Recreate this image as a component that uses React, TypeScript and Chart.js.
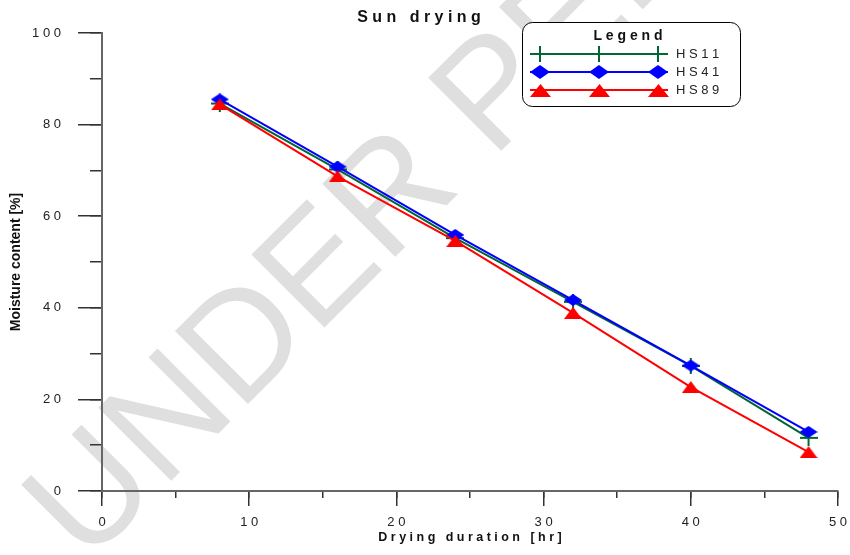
import React, { useEffect, useRef } from 'react';
import { Chart, registerables } from 'chart.js';

Chart.register(...registerables);

const chartTitle = 'Sun drying';
const xTitle = 'Drying duration [hr]';
const yTitle = 'Moisture content [%]';
const legendTitle = 'Legend';
const watermarkText = 'UNDER PEER REVIEW';

const hours = [8, 16, 24, 32, 40, 48];
const seriesNames = ['HS11', 'HS41', 'HS89'];
const hs11 = [84.6, 70.2, 55.2, 41.3, 27.3, 11.6];
const hs41 = [85.5, 70.8, 55.9, 41.7, 27.4, 12.9];
const hs89 = [84.4, 68.7, 54.6, 38.9, 22.7, 8.5];
const seriesColors = ['#006633', '#0000ff', '#ff0000'];

const xRange = [0, 50];
const yRange = [0, 100];
const xMajorStep = 10;
const xMinorStep = 5;
const yMajorStep = 20;
const yMinorStep = 10;

const FONT = '"Liberation Sans", Arial, Helvetica, sans-serif';

const spaced = (s: string) =>
  s
    .split(' ')
    .map((w) => w.split('').join(' '))
    .join('   ');

function mk(w: number, h: number, draw: (g: CanvasRenderingContext2D) => void) {
  const c = document.createElement('canvas');
  c.width = w;
  c.height = h;
  const g = c.getContext('2d')!;
  draw(g);
  return c;
}
const diamond = (w: number, h: number, col: string) =>
  mk(w, h, (g) => {
    g.fillStyle = col;
    g.beginPath();
    g.moveTo(w / 2, 0);
    g.lineTo(w, h / 2);
    g.lineTo(w / 2, h);
    g.lineTo(0, h / 2);
    g.closePath();
    g.fill();
  });
const triangle = (w: number, h: number, col: string) =>
  mk(w, h, (g) => {
    g.fillStyle = col;
    g.beginPath();
    g.moveTo(w / 2, 0);
    g.lineTo(w, h);
    g.lineTo(0, h);
    g.closePath();
    g.fill();
  });
const cross = (w: number, h: number, col: string, lw: number) =>
  mk(w, h, (g) => {
    g.strokeStyle = col;
    g.lineWidth = lw;
    g.beginPath();
    g.moveTo(0, h / 2);
    g.lineTo(w, h / 2);
    g.moveTo(w / 2, 0);
    g.lineTo(w / 2, h);
    g.stroke();
  });

export default function App() {
  const ref = useRef<HTMLCanvasElement>(null);

  useEffect(() => {
    const canvas = ref.current!;
    const markers = [
      cross(18, 16, seriesColors[0], 2),
      diamond(18, 12, seriesColors[1]),
      triangle(18, 12, seriesColors[2]),
    ];
    const legendMarkers = [
      cross(2, 16, seriesColors[0], 2),
      diamond(20, 14, seriesColors[1]),
      triangle(21, 13, seriesColors[2]),
    ];
    const values = [hs11, hs41, hs89];

    const watermark = {
      id: 'watermark',
      beforeDraw(chart: any) {
        const ctx = chart.ctx;
        ctx.save();
        ctx.translate(86, 566);
        ctx.rotate((-45 * Math.PI) / 180);
        ctx.font = `150px ${FONT}`;
        ctx.fillStyle = '#dfdfdf';
        ctx.textBaseline = 'alphabetic';
        ctx.fillText(watermarkText, 0, 0);
        ctx.restore();
      },
    };

    const boxLegend = {
      id: 'boxLegend',
      afterDraw(chart: any) {
        const ctx = chart.ctx;
        const bx = 522, by = 22, bw = 218, bh = 84, r = 10;
        ctx.save();
        ctx.beginPath();
        ctx.roundRect(bx + 0.5, by + 0.5, bw, bh, r);
        ctx.fillStyle = '#ffffff';
        ctx.fill();
        ctx.strokeStyle = '#000';
        ctx.lineWidth = 1;
        ctx.stroke();
        ctx.fillStyle = '#111';
        ctx.font = `bold 14px ${FONT}`;
        ctx.textAlign = 'center';
        ctx.textBaseline = 'middle';
        ctx.fillText(spaced(legendTitle), 628, 36);
        const rows = [54, 72, 90];
        const mx = [540, 599, 658];
        seriesNames.forEach((name, i) => {
          const y = rows[i];
          ctx.strokeStyle = seriesColors[i];
          ctx.lineWidth = 2;
          ctx.beginPath();
          ctx.moveTo(530, y);
          ctx.lineTo(668, y);
          ctx.stroke();
          const m = legendMarkers[i];
          mx.forEach((x) => ctx.drawImage(m, Math.round(x - m.width / 2), Math.round(y - m.height / 2)));
          ctx.fillStyle = '#222';
          ctx.font = `13px ${FONT}`;
          ctx.textAlign = 'left';
          ctx.fillText(spaced(name), 676, y + 0.5);
        });
        ctx.restore();
      },
    };

    const gridBase = { drawOnChartArea: false, color: '#333', lineWidth: 1.5 };

    const chart = new Chart(canvas, {
      type: 'line',
      data: {
        datasets: seriesNames.map((name, i) => ({
          label: name,
          data: hours.map((x, j) => ({ x, y: values[i][j] })),
          borderColor: seriesColors[i],
          backgroundColor: seriesColors[i],
          borderWidth: 2,
          pointStyle: markers[i] as any,
          pointRadius: 6,
          fill: false,
          tension: 0,
          order: 3 - i,
          xAxisID: 'x',
          yAxisID: 'y',
        })),
      },
      options: {
        responsive: false,
        animation: false,
        events: [],
        layout: { padding: { left: 0, right: 12, top: 0, bottom: 0 } },
        font: { family: FONT },
        plugins: {
          legend: { display: false },
          tooltip: { enabled: false },
          title: {
            display: true,
            text: spaced(chartTitle),
            color: '#111',
            font: { family: FONT, size: 16, weight: 'bold' },
            padding: { top: 8, bottom: 5.8 },
          },
        },
        scales: {
          x: {
            type: 'linear',
            position: 'bottom',
            min: xRange[0],
            max: xRange[1],
            weight: 0,
            ticks: {
              stepSize: xMajorStep,
              padding: 9,
              color: '#222',
              font: { family: FONT, size: 13 },
              maxRotation: 0,
              autoSkip: false,
              callback: (v: any) => String(v).split('').join(' '),
            },
            grid: { ...gridBase, tickLength: 15 },
            border: { display: true, color: '#666', width: 2 },
            title: {
              display: true,
              text: spaced(xTitle),
              color: '#111',
              font: { family: FONT, size: 12.5, weight: 'bold' },
              padding: { top: 0, bottom: 10 },
            },
            afterFit: (s: any) => {
              s.height = 64;
              s.paddingLeft = 0;
              s.paddingRight = 0;
            },
          },
          xMinor: {
            type: 'linear',
            position: 'bottom',
            min: xRange[0],
            max: xRange[1],
            weight: -1,
            ticks: { stepSize: xMinorStep, display: false },
            grid: { ...gridBase, tickLength: 7 },
            border: { display: false },
            afterFit: (s: any) => {
              s.height = 0;
              s.paddingLeft = 0;
              s.paddingRight = 0;
            },
          },
          y: {
            type: 'linear',
            position: 'left',
            min: yRange[0],
            max: yRange[1],
            weight: 0,
            ticks: {
              stepSize: yMajorStep,
              padding: 17,
              color: '#222',
              font: { family: FONT, size: 13 },
              callback: (v: any) => String(v).split('').join(' '),
            },
            grid: { ...gridBase, tickLength: 24 },
            border: { display: true, color: '#666', width: 2 },
            title: {
              display: true,
              text: yTitle,
              color: '#111',
              font: { family: FONT, size: 14, weight: 'bold' },
              padding: { top: 7.5, bottom: 0 },
            },
            afterFit: (s: any) => {
              s.width = 102;
            },
          },
          yMinor: {
            type: 'linear',
            position: 'left',
            min: yRange[0],
            max: yRange[1],
            weight: -1,
            ticks: { stepSize: yMinorStep, display: false },
            grid: { ...gridBase, tickLength: 12 },
            border: { display: false },
            afterFit: (s: any) => {
              s.width = 0;
            },
          },
        },
      } as any,
      plugins: [watermark, boxLegend],
    });
    return () => chart.destroy();
  }, []);

  return (
    <div style={{ position: 'absolute', left: 0, top: 0, width: 850, height: 555, background: '#fff' }}>
      <canvas ref={ref} width={850} height={555} style={{ display: 'block', width: 850, height: 555 }} />
    </div>
  );
}
